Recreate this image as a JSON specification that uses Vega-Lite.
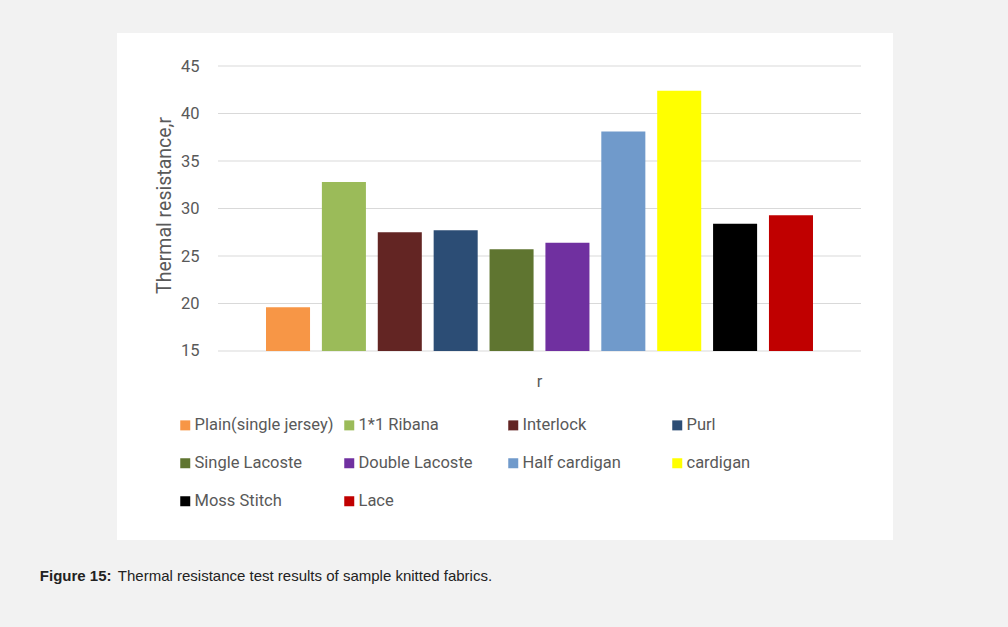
{
  "$schema": "https://vega.github.io/schema/vega-lite/v6.json",
  "width": 776,
  "height": 507,
  "autosize": {"type": "none"},
  "padding": {"left": 117, "top": 33, "right": 115, "bottom": 87},
  "background": "#f2f2f2",
  "view": {"fill": "#ffffff", "stroke": null},
  "resolve": {"axis": {"x": "independent"}},
  "layer": [
    {
      "data": {
        "values": [
          {"cat": "r", "value": 15},
          {"cat": "r", "value": 20},
          {"cat": "r", "value": 25},
          {"cat": "r", "value": 30},
          {"cat": "r", "value": 35},
          {"cat": "r", "value": 40},
          {"cat": "r", "value": 45}
        ]
      },
      "mark": {"type": "tick", "size": 643, "thickness": 1, "color": "#d9d9d9", "opacity": 1},
      "encoding": {
        "x": {
          "field": "cat",
          "type": "nominal",
          "title": "Figure 15:",
          "axis": {
            "orient": "bottom",
            "labels": false,
            "domain": false,
            "ticks": false,
            "grid": false,
            "offset": -189,
            "titleFont": "Liberation Sans",
            "titleFontSize": 15,
            "titleFontWeight": "bold",
            "titleColor": "#222222",
            "titleX": -77.7,
            "titleY": 229.7,
            "titleAlign": "left",
            "titleBaseline": "alphabetic",
            "titleAnchor": "start"
          }
        },
        "y": {"field": "value", "type": "quantitative", "title": "Thermal resistance,r"}
      }
    },
    {
      "data": {
        "values": [
          {"cat": "r", "series": "Plain(single jersey)", "value": 19.6},
          {"cat": "r", "series": "1*1 Ribana", "value": 32.8},
          {"cat": "r", "series": "Interlock", "value": 27.5},
          {"cat": "r", "series": "Purl", "value": 27.7},
          {"cat": "r", "series": "Single Lacoste", "value": 25.7},
          {"cat": "r", "series": "Double Lacoste", "value": 26.4},
          {"cat": "r", "series": "Half cardigan", "value": 38.1},
          {"cat": "r", "series": "cardigan", "value": 42.4},
          {"cat": "r", "series": "Moss Stitch", "value": 28.4},
          {"cat": "r", "series": "Lace", "value": 29.3}
        ]
      },
      "mark": {"type": "bar"},
      "encoding": {
        "x": {
          "field": "cat",
          "type": "nominal",
          "title": "Thermal resistance test results of sample knitted fabrics.",
          "scale": {"range": [101, 744], "paddingInner": 0, "paddingOuter": 0},
          "axis": {
            "orient": "bottom",
            "domain": false,
            "ticks": false,
            "grid": false,
            "labelAngle": 0,
            "labelFont": "Roboto",
            "labelFontSize": 16.5,
            "labelColor": "#595959",
            "labelPadding": 22,
            "offset": -189,
            "titleFont": "Liberation Sans",
            "titleFontSize": 15,
            "titleFontWeight": "normal",
            "titleColor": "#222222",
            "titleX": 0.3,
            "titleY": 229.7,
            "titleAlign": "left",
            "titleBaseline": "alphabetic",
            "titleAnchor": "start"
          }
        },
        "xOffset": {
          "field": "series",
          "type": "nominal",
          "scale": {
            "domain": ["Plain(single jersey)", "1*1 Ribana", "Interlock", "Purl", "Single Lacoste", "Double Lacoste", "Half cardigan", "cardigan", "Moss Stitch", "Lace"],
            "paddingInner": 0.212,
            "paddingOuter": 0.859
          }
        },
        "y": {
          "field": "value",
          "type": "quantitative",
          "title": "Thermal resistance,r",
          "scale": {"domain": [-4.895, 48.474], "nice": false, "zero": false},
          "axis": {
            "values": [15, 20, 25, 30, 35, 40, 45],
            "domain": false,
            "ticks": false,
            "grid": false,
            "offset": -91,
            "labelPadding": 9,
            "labelFont": "Roboto",
            "labelFontSize": 16.5,
            "labelColor": "#595959",
            "titleFont": "Roboto",
            "titleFontSize": 19.5,
            "titleFontWeight": "normal",
            "titleColor": "#595959",
            "titleX": -38,
            "titleY": 172,
            "titleBaseline": "alphabetic",
            "titleAlign": "center",
            "titleAngle": -90
          }
        },
        "y2": {"datum": 15},
        "color": {
          "field": "series",
          "type": "nominal",
          "scale": {
            "domain": ["Plain(single jersey)", "1*1 Ribana", "Interlock", "Purl", "Single Lacoste", "Double Lacoste", "Half cardigan", "cardigan", "Moss Stitch", "Lace"],
            "range": ["#f79646", "#9bbb59", "#632523", "#2c4d75", "#5f7530", "#7030a0", "#709acb", "#ffff00", "#000000", "#c00000"]
          },
          "legend": {
            "orient": "none",
            "legendX": 60,
            "legendY": 384,
            "direction": "horizontal",
            "columns": 4,
            "gridAlign": "all",
            "columnPadding": 7,
            "rowPadding": 21,
            "padding": 0,
            "title": null,
            "symbolType": "square",
            "symbolSize": 100,
            "symbolStrokeWidth": 0,
            "symbolOpacity": 1,
            "labelFont": "Roboto",
            "labelFontSize": 16.5,
            "labelColor": "#595959",
            "labelOffset": 1,
            "labelLimit": 200
          }
        }
      }
    }
  ]
}
